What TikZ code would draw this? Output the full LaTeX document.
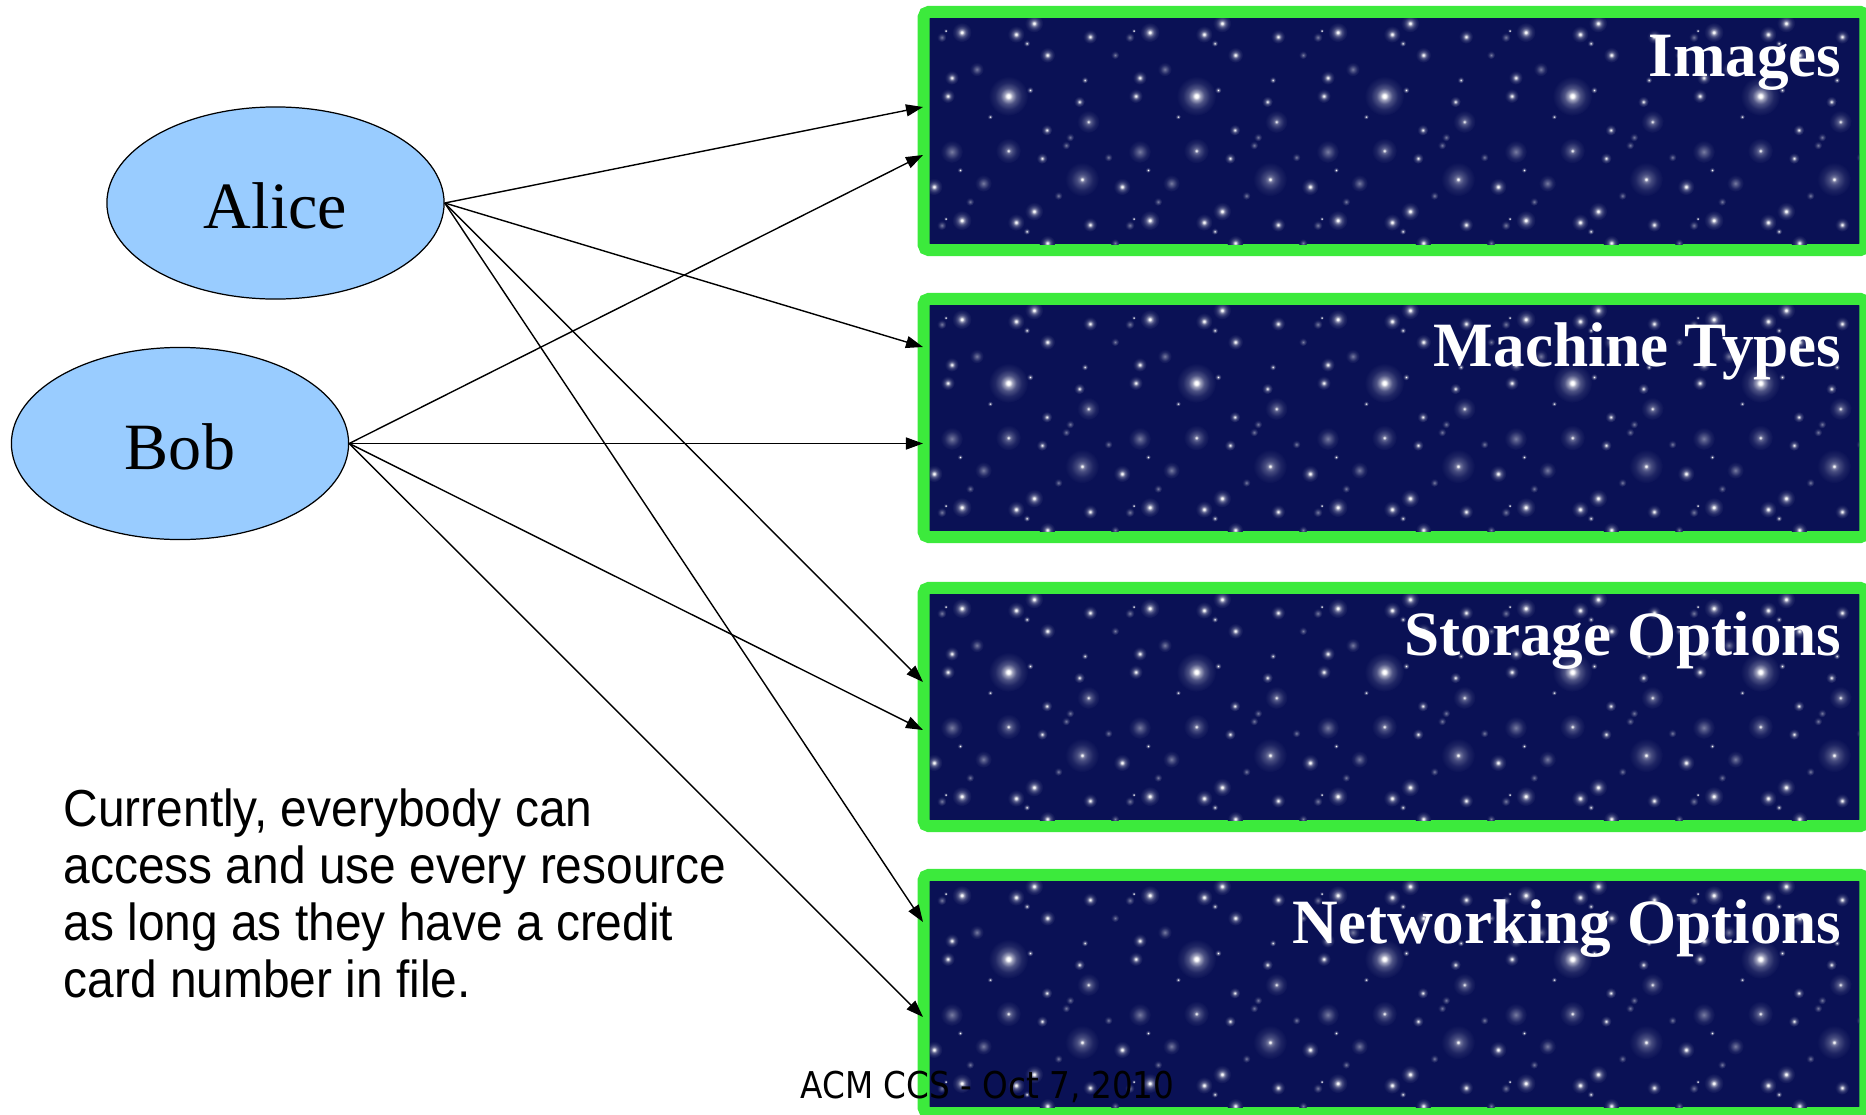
\documentclass[tikz,border=0pt]{standalone}
\usepackage{fontspec}
\setmainfont{Liberation Serif}
\newfontfamily\bodyfont[FakeStretch=0.92]{Liberation Sans}
\newfontfamily\footfont[FakeStretch=0.885]{DejaVu Sans}
\usetikzlibrary{arrows.meta,shapes.geometric}

\definecolor{starbg}{RGB}{10,17,85}
\definecolor{panelgreen}{RGB}{60,234,60}
\definecolor{personblue}{RGB}{153,204,255}

% a bright star: white core with a soft halo
\pgfdeclareradialshading{starglow}{\pgfpoint{0bp}{0bp}}{%
  color(0bp)=(white); color(2bp)=(white); color(5bp)=(white!62!starbg);
  color(10bp)=(white!28!starbg); color(17bp)=(white!9!starbg);
  color(25bp)=(starbg); color(50bp)=(starbg)}
% a faint star: halo only
\pgfdeclareradialshading{starhaze}{\pgfpoint{0bp}{0bp}}{%
  color(0bp)=(white!45!starbg); color(8bp)=(white!25!starbg);
  color(16bp)=(white!8!starbg); color(25bp)=(starbg); color(50bp)=(starbg)}
% a wide faint halo round a small bright core
\pgfdeclareradialshading{starcore}{\pgfpoint{0bp}{0bp}}{%
  color(0bp)=(white); color(1.5bp)=(white!85!starbg);
  color(3.5bp)=(white!42!starbg); color(8bp)=(white!24!starbg);
  color(16bp)=(white!8!starbg); color(25bp)=(starbg); color(50bp)=(starbg)}

\tikzset{
  bright/.style={shading=starglow},
  faint/.style={shading=starhaze},
  cored/.style={shading=starcore},
  person/.style={ellipse, draw=black, line width=0.35pt, fill=personblue,
    minimum width=3.37cm, minimum height=1.92cm, inner sep=0pt,
    text height=0.51cm, text depth=0pt,
    font=\fontsize{18.8pt}{22pt}\selectfont},
  panel/.style={rectangle, draw=panelgreen, line width=0.12cm, fill=starbg,
    rounded corners=0.05cm, minimum width=9.41cm, minimum height=2.38cm,
    inner sep=0pt},
  paneltitle/.style={anchor=base east, inner sep=0pt, text=white,
    font=\fontsize{17.95pt}{20pt}\selectfont\bfseries},
  link/.style={line width=0.4pt, -{Triangle[length=0.17cm,width=0.12cm]}},
}

% one star: position (#2,#3), halo radius #4 px, style #1
\newcommand\onestar[4]{\shade[#1] (#2,#3) circle[radius=1.414*#4*0.01cm];}

% one 188 x 188 px tile of the night sky
\newcommand\skytile{%
\onestar{bright}{31.7}{12.3}{7}
\onestar{faint}{11.7}{17.3}{3.5}
\onestar{bright}{15.7}{10.7}{1.5}
\onestar{bright}{86}{14.3}{6}
\onestar{bright}{104}{3.3}{6.5}
\onestar{bright}{96.7}{23.3}{2.5}
\onestar{bright}{160}{16.7}{5}
\onestar{bright}{117.3}{35}{5.5}
\onestar{faint}{185}{35}{3}
\onestar{faint}{46.7}{49.3}{5}
\onestar{bright}{21.7}{57.7}{5}
\onestar{bright}{154.7}{60}{2.5}
\onestar{bright}{78.3}{76}{14}
\onestar{bright}{100}{70}{2.5}
\onestar{bright}{17.7}{76}{5}
\onestar{bright}{149.3}{81.7}{4}
\onestar{bright}{60}{96.7}{2}
\onestar{cored}{158.3}{101.7}{8}
\onestar{bright}{116.7}{110}{4}
\onestar{faint}{140}{117.3}{3}
\onestar{faint}{136}{125.3}{3}
\onestar{faint}{21.7}{131.7}{8}
\onestar{cored}{78.3}{130.7}{9}
\onestar{bright}{112}{138.3}{4}
\onestar{faint}{178.3}{137.3}{3}
\onestar{bright}{30}{150}{2}
\onestar{bright}{4}{166.7}{6}
\onestar{faint}{53.3}{163.3}{6}
\onestar{cored}{152}{159.3}{12}
\onestar{faint}{40}{181.7}{3}
\onestar{faint}{128.3}{175.7}{3}}

% sky of one panel: tiles repeated from (#1,#2) over the inner area #3 x #4
\newcommand\starfield[4]{%
  \begin{scope}
    \clip (#1,#2-2) rectangle ++(#3,#4);
    \foreach \ty in {0,1}{
      \foreach \tx in {0,...,4}{
        \begin{scope}[shift={(#1+188*\tx,#2+188*\ty)}]
          \skytile
        \end{scope}
      }
    }
  \end{scope}}

\begin{document}
\begin{tikzpicture}[x=0.01cm,y=-0.01cm]
\useasboundingbox (0,0) rectangle (1866,1115);
\clip (0,0) rectangle (1866,1115);

% resource panels
\node[panel] (img)  at (1394.5,131) {};
\starfield{930}{20}{929}{226}
\node[panel] (mach) at (1394.5,418) {};
\starfield{930}{307}{929}{226}
\node[panel] (stor) at (1394.5,707) {};
\starfield{930}{596}{929}{226}
\node[panel] (net)  at (1394.5,994) {};
\starfield{930}{883}{929}{226}

\node[paneltitle] (imgt)  at (1842,77)  {Images};
\node[paneltitle] (macht) at (1842,366) {Machine Types};
\node[paneltitle] (stort) at (1842,655) {Storage Options};
\node[paneltitle] (nett)  at (1842,943) {Networking Options};

% users
\node[person] (alice) at (275.5,203) {Alice};
\node[person] (bob)   at (180,443.5) {Bob};

% arrow end points on the panels' left edges
\coordinate (img-a)  at (923,107);
\coordinate (img-b)  at (923,155);
\coordinate (mach-a) at (923,347);
\coordinate (mach-b) at (923,443.5);
\coordinate (stor-a) at (923,682);
\coordinate (stor-b) at (923,730);
\coordinate (net-a)  at (923,922);
\coordinate (net-b)  at (923,1017);

\draw[link] (alice.east) -- (img-a);
\draw[link] (alice.east) -- (mach-a);
\draw[link] (alice.east) -- (stor-a);
\draw[link] (alice.east) -- (net-a);
\draw[link] (bob.east) -- (img-b);
\draw[link] (bob.east) -- (mach-b);
\draw[link] (bob.east) -- (stor-b);
\draw[link] (bob.east) -- (net-b);

\node[anchor=base west, align=left, inner sep=0pt,
      font=\bodyfont\fontsize{14.8pt}{16.2pt}\selectfont] (note) at (63,997)
  {Currently, everybody can\\access and use every resource\\as long as they have a credit\\card number in file.};

\node[anchor=base west, inner sep=0pt,
      font=\footfont\fontsize{10.5pt}{12pt}\selectfont] (foot) at (800,1098)
  {ACM CCS - Oct 7, 2010};
\end{tikzpicture}
\end{document}
